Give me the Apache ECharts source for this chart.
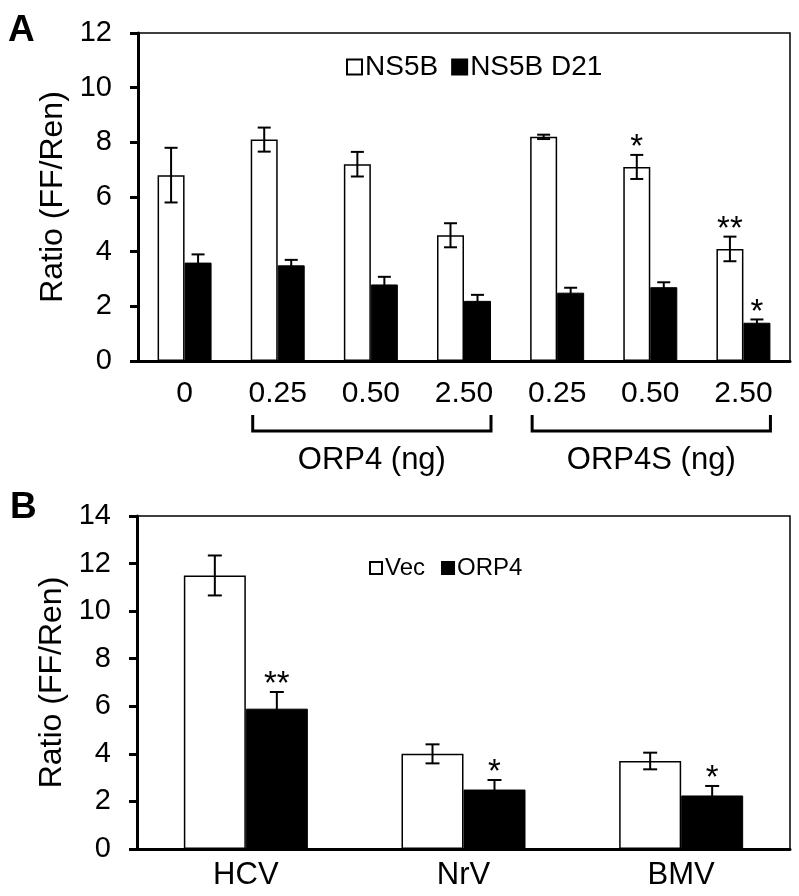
<!DOCTYPE html>
<html>
<head>
<meta charset="utf-8">
<script src="https://cdn.jsdelivr.net/npm/echarts@6/dist/echarts.min.js"></script>
<style>html,body{margin:0;padding:0;background:#fff}#c{width:799px;height:896px}</style>
</head>
<body>
<div id="c"></div>
<script>
// ---------- Panel A data ----------
const categoriesA = ['0', '0.25', '0.50', '2.50', '0.25', '0.50', '2.50'];
const ns5bValues = [6.8, 8.1, 7.2, 4.6, 8.2, 7.1, 4.1];
const ns5bErrors = [1.0, 0.44, 0.45, 0.44, 0.08, 0.44, 0.45];
const ns5bSig = ['', '', '', '', '', '*', '**'];
const d21Values = [3.6, 3.5, 2.8, 2.2, 2.5, 2.7, 1.4];
const d21Errors = [0.3, 0.2, 0.28, 0.22, 0.18, 0.18, 0.12];
const d21Sig = ['', '', '', '', '', '', '*'];
const yTicksA = [0, 2, 4, 6, 8, 10, 12];
const groupNamesA = ['ORP4 (ng)', 'ORP4S (ng)'];
const groupFromA = [1, 4];
const groupToA = [3, 6];

// ---------- Panel B data ----------
const categoriesB = ['HCV', 'NrV', 'BMV'];
const vecValues = [11.5, 4.0, 3.7];
const vecErrors = [0.84, 0.4, 0.35];
const vecSig = ['', '', ''];
const orp4Values = [5.9, 2.5, 2.25];
const orp4Errors = [0.7, 0.4, 0.4];
const orp4Sig = ['**', '*', '*'];
const yTicksB = [0, 2, 4, 6, 8, 10, 12, 14];

const FONT = 'Liberation Sans, Arial, Helvetica, sans-serif';

function errSeries(name, xi, values, errors, sig, offset, cap) {
  return {
    type: 'custom', name: name, xAxisIndex: xi, yAxisIndex: xi, z: 5,
    data: values.map((v, i) => [i, v, errors[i]]),
    renderItem: function (params, api) {
      const x = api.value(0), v = api.value(1), e = api.value(2);
      const hi = api.coord([x, v + e]);
      const lo = api.coord([x, v - e]);
      const cx = hi[0] + offset;
      const st = { stroke: '#000', lineWidth: 2 };
      const ch = [
        { type: 'line', shape: { x1: cx, y1: hi[1], x2: cx, y2: lo[1] }, style: st },
        { type: 'line', shape: { x1: cx - cap / 2, y1: hi[1], x2: cx + cap / 2, y2: hi[1] }, style: st },
        { type: 'line', shape: { x1: cx - cap / 2, y1: lo[1], x2: cx + cap / 2, y2: lo[1] }, style: st }
      ];
      const s = sig[params.dataIndex];
      if (s) {
        ch.push({ type: 'text', style: { text: s, x: cx, y: hi[1] - 7, align: 'center', verticalAlign: 'middle', fill: '#000', font: '33px ' + FONT } });
      }
      return { type: 'group', children: ch };
    }
  };
}

function yAxis(gi, max, ticks) {
  return {
    type: 'value', gridIndex: gi, min: 0, max: max, interval: 2,
    name: 'Ratio (FF/Ren)', nameLocation: 'middle', nameRotate: 90, nameGap: 67,
    nameTextStyle: { color: '#000', fontSize: 32, fontFamily: FONT },
    axisLine: { show: true, lineStyle: { color: '#000', width: 3 } },
    axisTick: { show: true, inside: false, length: 8, lineStyle: { color: '#000', width: 3 } },
    axisLabel: { color: '#000', fontSize: 29, fontFamily: FONT, margin: 26, formatter: v => (ticks.indexOf(v) >= 0 ? String(v) : '') },
    splitLine: { show: false }
  };
}

const chart = echarts.init(document.getElementById('c'), null, { renderer: 'canvas' });
const option = {
  animation: false,
  backgroundColor: '#fff',
  grid: [
    { left: 138, top: 33, right: 9, height: 328, show: true, borderColor: '#000', borderWidth: 1.5, backgroundColor: 'transparent' },
    { left: 137, top: 516, right: 9, height: 333, show: true, borderColor: '#000', borderWidth: 1.5, backgroundColor: 'transparent' }
  ],
  xAxis: [
    { type: 'category', gridIndex: 0, data: categoriesA,
      axisLine: { lineStyle: { color: '#000', width: 3 } }, axisTick: { show: false },
      axisLabel: { color: '#000', fontSize: 30, fontFamily: FONT, margin: 18, interval: 0 } },
    { type: 'category', gridIndex: 1, data: categoriesB,
      axisLine: { lineStyle: { color: '#000', width: 3 } }, axisTick: { show: false },
      axisLabel: { color: '#000', fontSize: 31, fontFamily: FONT, margin: 11, interval: 0 } }
  ],
  yAxis: [yAxis(0, 12, yTicksA), yAxis(1, 14, yTicksB)],
  legend: [
    { data: ['NS5B', 'NS5B D21'], left: 341, top: 48, icon: 'rect', itemWidth: 15, itemHeight: 15, itemGap: 13,
      textStyle: { color: '#000', fontSize: 28, fontFamily: FONT, padding: [0, 0, 0, -2] } },
    { data: ['Vec', 'ORP4'], left: 364, top: 551, icon: 'rect', itemWidth: 12, itemHeight: 12, itemGap: 16,
      textStyle: { color: '#000', fontSize: 24, fontFamily: FONT, padding: [0, 0, 0, -2] } }
  ],
  series: [
    { type: 'bar', name: 'NS5B', xAxisIndex: 0, yAxisIndex: 0, data: ns5bValues, barWidth: 27, barGap: '0%',
      itemStyle: { color: '#fff', borderColor: '#000', borderWidth: 1.5 } },
    { type: 'bar', name: 'NS5B D21', xAxisIndex: 0, yAxisIndex: 0, data: d21Values, barWidth: 27, barGap: '0%',
      itemStyle: { color: '#000', borderColor: '#000', borderWidth: 1 } },
    { type: 'bar', name: 'Vec', xAxisIndex: 1, yAxisIndex: 1, data: vecValues, barWidth: 62, barGap: '0%',
      itemStyle: { color: '#fff', borderColor: '#000', borderWidth: 1.5 } },
    { type: 'bar', name: 'ORP4', xAxisIndex: 1, yAxisIndex: 1, data: orp4Values, barWidth: 62, barGap: '0%',
      itemStyle: { color: '#000', borderColor: '#000', borderWidth: 1 } },
    errSeries('errA1', 0, ns5bValues, ns5bErrors, ns5bSig, -13.5, 13),
    errSeries('errA2', 0, d21Values, d21Errors, d21Sig, 13.5, 13),
    errSeries('errB1', 1, vecValues, vecErrors, vecSig, -31, 14),
    errSeries('errB2', 1, orp4Values, orp4Errors, orp4Sig, 31, 14)
  ]
};
chart.setOption(option);

// Brackets and group names under panel A, placed from axis coordinates
const y0 = chart.convertToPixel({ yAxisIndex: 0 }, 0);
const graphics = [
  { type: 'text', left: 8, top: 12, style: { text: 'A', font: 'bold 37px ' + FONT, fill: '#000' } },
  { type: 'text', left: 10, top: 489, style: { text: 'B', font: 'bold 37px ' + FONT, fill: '#000' } }
];
groupNamesA.forEach((nm, k) => {
  const xl = chart.convertToPixel({ xAxisIndex: 0 }, groupFromA[k]) - 25;
  const xr = chart.convertToPixel({ xAxisIndex: 0 }, groupToA[k]) + 27;
  graphics.push({ type: 'polyline', shape: { points: [[xl, y0 + 54], [xl, y0 + 70], [xr, y0 + 70], [xr, y0 + 54]] },
    style: { stroke: '#000', lineWidth: 3, fill: null } });
  graphics.push({ type: 'text', x: (xl + xr) / 2, y: y0 + 99,
    style: { text: nm, font: '31px ' + FONT, fill: '#000', align: 'center', verticalAlign: 'middle' } });
});
chart.setOption({ graphic: graphics });
</script>
</body>
</html>
